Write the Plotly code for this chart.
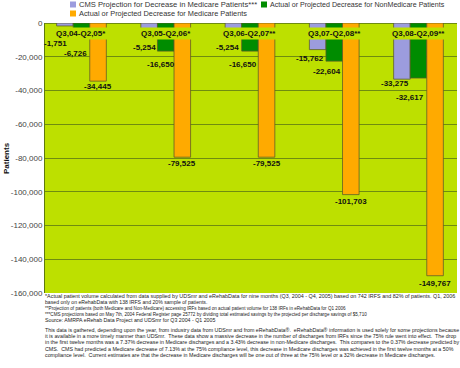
import plotly.graph_objects as go

# ---------------- data ----------------
categories = ["Q3,04-Q2,05*", "Q3,05-Q2,06*", "Q3,06-Q2,07**", "Q3,07-Q2,08**", "Q3,08-Q2,09**"]
cms_projection = [-1751, -5254, -5254, -15762, -33275]
nonmedicare_decrease = [-6726, -16650, -16650, -22604, -32617]
medicare_decrease = [-34445, -79525, -79525, -101703, -149767]
series_names = [
    "CMS Projection for Decrease in Medicare Patients***",
    "Actual or Projected Decrease for NonMedicare Patients",
    "Actual or Projected Decrease for Medicare Patients",
]
tick_values = [0, -20000, -40000, -60000, -80000, -100000, -120000, -140000, -160000]
tick_labels = ["0", "-20,000", "-40,000", "-60,000", "-80,000", "-100,000", "-120,000", "-140,000", "-160,000"]
footnotes = [
    "*Actual patient volume calculated from data supplied by UDSmr and eRehabData for nine months (Q3, 2004 - Q4, 2005) based on 742 IRFS and 82% of patients. Q1, 2006",
    "based only on eRehabData with 138 IRFS and 20% sample of patients.",
    "**Projection of patients (both Medicare and Non-Medicare) accessing IRFs based on actual patient volume for 138 IRFs in eRehabData for Q1 2006",
    "***CMS projections based on May 7th, 2004 Federal Register page 25772 by dividing total estimated savings by the projected per discharge savings of $5,710",
    "Source: AMRPA eRehab Data Project and UDSmr for Q3 2004 - Q1 2005",
]
paragraph = [
    "This data is gathered, depending upon the year, from industry data from UDSmr and from eRehabData\u00ae.  eRehabData\u00ae information is used solely for some projections because",
    "it is available in a more timely manner than UDSmr.  These data show a massive decrease in the number of discharges from IRFs since the 75% rule went into effect.  The drop",
    "in the first twelve months was a 7.37% decrease in Medicare discharges and a 3.43% decrease in non-Medicare discharges.  This compares to the 0.37% decrease predicted by",
    "CMS.  CMS had predicted a Medicare decrease of 7.13% at the 75% compliance level, this decrease in Medicare discharges was achieved in the first twelve months at a 50%",
    "compliance level.  Current estimates are that the decrease in Medicare discharges will be one out of three at the 75% level or a 32% decrease in Medicare discharges.",
]

# ---------------- style ----------------
W, H = 460, 368
ML, MR, MT, MB = 45, 3, 23, 75
PW, PH = W - ML - MR, H - MT - MB
LIME = "#BDE000"
GRID = "#6F8C10"
COLORS = ["#9C9CDE", "#008C00", "#FFAA00"]
BARGAP = 0.41
XRANGE = [-0.433, 4.457]
unit_px = PW / (XRANGE[1] - XRANGE[0])
bar_px = (1 - BARGAP) / 3 * unit_px
FOOT_SIZES = [5.42, 5.15, 4.6, 4.6, 5.25]
PARA_SIZE = 5.3
LEGEND_SIZES = [7.6, 7.1, 7.4]


def px(xp):
    return (xp - ML) / PW


def py(yp):
    return (H - MB - yp) / PH


# label offsets (pixels) for value labels: (dx relative to bar centre, dy downward)
lab_dx = [[-9, -4.5, -5.5, -7.5, -6.5], [-5.5, -5, -7, -7.5, -8.5], [0, 0, 0, 0, 0]]
lab_dy = [[17.4, 15.5, 15.5, 9, 4.6], [19, 13.4, 13.4, 10.4, 19.7], [5.6, 6.1, 6.1, 7, 7.5]]

series = [cms_projection, nonmedicare_decrease, medicare_decrease]

fig = go.Figure()
for name, vals, col in zip(series_names, series, COLORS):
    fig.add_trace(go.Bar(
        x=categories, y=vals, name=name,
        marker=dict(color=col, line=dict(color="rgba(90,90,40,0.75)", width=1)),
        showlegend=False,
    ))

annotations = []
BOLD = "Liberation Sans"
for si, vals in enumerate(series):
    for ci, v in enumerate(vals):
        annotations.append(dict(
            x=categories[ci], y=v, xref="x", yref="y",
            text=f"<b>{v:,}</b>", showarrow=False,
            xanchor="center", yanchor="middle",
            xshift=(si - 1) * bar_px + lab_dx[si][ci],
            yshift=-lab_dy[si][ci],
            font=dict(family=BOLD, size=8, color="#111"),
        ))

# category labels near the zero line
for ci, c in enumerate(categories):
    annotations.append(dict(
        x=c, y=0, xref="x", yref="y", text=f"<b>{c}</b>", showarrow=False,
        xanchor="center", yanchor="middle", yshift=-10.5, bgcolor=LIME, borderpad=1,
        font=dict(family=BOLD, size=8, color="#111"),
    ))

# y-axis title
annotations.append(dict(
    x=px(6), y=py(158), xref="paper", yref="paper", text="<b>Patients</b>",
    textangle=-90, showarrow=False, xanchor="center", yanchor="middle",
    font=dict(family=BOLD, size=8, color="#111"),
))

# custom legend
shapes = []
legend_pos = [(70, 4.5), (261, 4.5), (70, 13.5)]
for (lx, ly), name, col, fs in zip(legend_pos, series_names, COLORS, LEGEND_SIZES):
    shapes.append(dict(type="rect", xref="paper", yref="paper",
                       x0=px(lx), x1=px(lx + 6), y0=py(ly + 3), y1=py(ly - 3),
                       fillcolor=col, line=dict(width=0)))
    annotations.append(dict(x=px(lx + 7), y=py(ly), xref="paper", yref="paper",
                            text=name, showarrow=False, xanchor="left", yanchor="middle",
                            font=dict(family="Liberation Sans", size=fs, color="#333")))

# footnotes
for i, t in enumerate(footnotes):
    yc = 296 + 6.1 * i
    annotations.append(dict(x=px(43), y=py(yc), xref="paper", yref="paper",
                            text=t, showarrow=False, xanchor="left", yanchor="middle",
                            font=dict(family="Liberation Sans", size=FOOT_SIZES[i], color="#222")))
for i, t in enumerate(paragraph):
    yc = 330 + 6.2 * i
    annotations.append(dict(x=px(43), y=py(yc), xref="paper", yref="paper",
                            text=t, showarrow=False, xanchor="left", yanchor="middle",
                            font=dict(family="Liberation Sans", size=PARA_SIZE, color="#222")))

fig.update_layout(
    width=W, height=H,
    margin=dict(l=ML, r=MR, t=MT, b=MB, pad=0),
    paper_bgcolor="white", plot_bgcolor=LIME,
    barmode="group", bargap=BARGAP, bargroupgap=0,
    showlegend=False,
    annotations=annotations, shapes=shapes,
    xaxis=dict(type="category", range=XRANGE, showticklabels=False, showgrid=False,
               zeroline=False, showline=False, fixedrange=True),
    yaxis=dict(range=[-160000, 0], tickvals=tick_values, ticktext=tick_labels,
               showgrid=True, gridcolor=GRID, gridwidth=1,
               zeroline=True, zerolinecolor=GRID, zerolinewidth=1,
               showline=True, linecolor="#5E7A10", linewidth=1,
               ticks="", tickfont=dict(family="Liberation Sans", size=8, color="#444"),
               automargin=False, fixedrange=True),
    font=dict(family="Liberation Sans"),
)

fig.write_html(
    "out.html",
    config={"displayModeBar": False},
    post_script="document.body.style.margin='0px';document.body.style.overflow='hidden';",
)
